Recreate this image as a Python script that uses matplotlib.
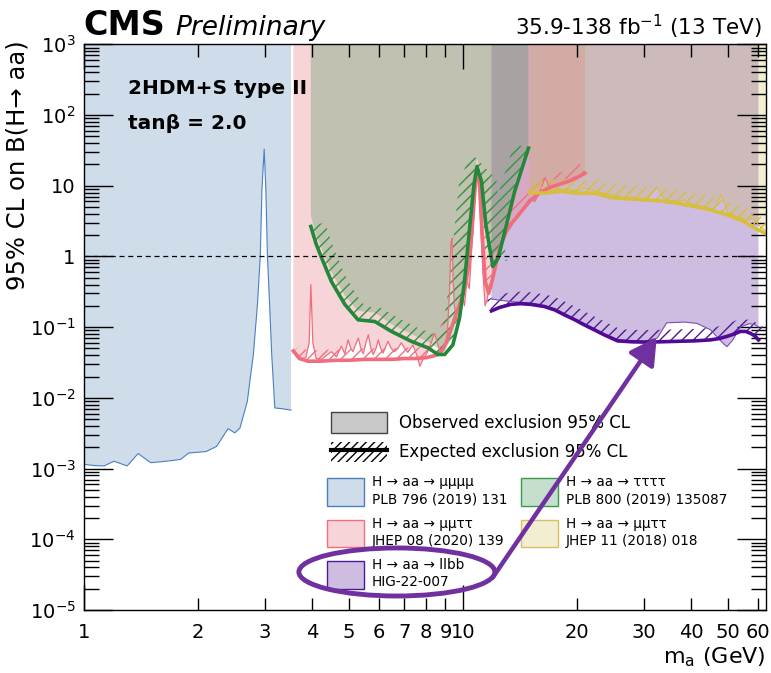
import numpy as np
import matplotlib
matplotlib.use("Agg")
import matplotlib.pyplot as plt
from matplotlib.patches import Polygon, Patch, Ellipse
from matplotlib.lines import Line2D
from matplotlib.ticker import FixedLocator, FuncFormatter

plt.rcParams['font.family'] = ['DejaVu Sans']
plt.rcParams['mathtext.default'] = 'regular'
plt.rcParams['hatch.linewidth'] = 1.0

# H -> aa -> mumumumu, PLB 796 (2019) 131 (observed)
mu4_m = [1.0, 1.07, 1.13, 1.2, 1.3, 1.39, 1.5, 1.6, 1.71, 1.8, 1.89, 2.0, 2.1, 2.24, 2.4, 2.5,
         2.58, 2.64, 2.70, 2.74, 2.80, 2.87, 2.92, 2.95, 2.99, 3.02, 3.05, 3.09, 3.13, 3.16,
         3.19, 3.35, 3.52]
mu4_obs = [1.15e-3, 1.1e-3, 1.09e-3, 1.27e-3, 1.09e-3, 1.63e-3, 1.21e-3, 1.25e-3, 1.3e-3,
           1.35e-3, 1.66e-3, 1.7e-3, 1.74e-3, 2.06e-3, 3.67e-3, 3.2e-3, 3.73e-3, 5.8e-3, 9e-3,
           0.017, 0.041, 0.21, 1.0, 9.0, 33, 9.0, 1.0, 0.21, 0.041, 0.017, 7.2e-3, 7.0e-3, 6.7e-3]

# H -> aa -> mumutautau, JHEP 08 (2020) 139
mmtt20_m = [3.57, 3.65, 3.75, 3.85, 3.93, 3.97, 4.02, 4.1, 4.24, 4.37, 4.5, 4.64, 4.78, 4.88,
            4.98, 5.06, 5.13, 5.22, 5.30, 5.38, 5.46, 5.55, 5.63, 5.72, 5.80, 5.9, 5.98, 6.07,
            6.16, 6.25, 6.34, 6.47, 6.6, 6.74, 6.88, 7.02, 7.16, 7.27, 7.38, 7.5, 7.6, 7.7,
            7.85, 8.08, 8.25, 8.42, 8.6, 8.77, 8.95, 9.1, 9.22, 9.3, 9.36, 9.42, 9.5, 9.65,
            9.8, 9.95, 10.1, 10.25, 10.4, 10.55, 10.7, 10.85, 10.95, 11.05, 11.15, 11.3, 11.45,
            11.6, 11.75, 11.9, 12.1, 12.4, 12.8, 13.2, 13.6, 14.0, 14.5, 15.0, 15.5, 16.0,
            16.5, 17.0, 17.5, 18.0, 18.5, 19.0, 19.5, 20.0, 20.5, 21.0]
mmtt20_obs = [0.048, 0.042, 0.036, 0.037, 0.06, 0.40, 0.06, 0.036, 0.035, 0.04, 0.045, 0.038,
              0.054, 0.042, 0.066, 0.05, 0.045, 0.058, 0.07, 0.05, 0.042, 0.06, 0.078, 0.05,
              0.041, 0.05, 0.066, 0.05, 0.043, 0.052, 0.063, 0.05, 0.045, 0.05, 0.06, 0.05,
              0.044, 0.05, 0.056, 0.045, 0.037, 0.028, 0.035, 0.045, 0.06, 0.082, 0.055, 0.044,
              0.05, 0.08, 0.3, 1.5, 1.8, 0.5, 0.2, 0.12, 0.16, 0.3, 0.2, 0.45, 0.35, 1.2, 4.0,
              15, 20, 10, 2.5, 0.6, 0.2, 0.25, 0.4, 0.35, 0.6, 1.0, 1.8, 2.6, 3.2, 4.0, 5.0,
              6.5, 6.0, 8.5, 13, 9.0, 10, 10.5, 11, 11.5, 13, 13.5, 14, 15]
mmtt20_exp_m = [3.57, 3.7, 3.9, 4.2, 4.6, 5.0, 5.5, 6.0, 6.5, 7.0, 7.5, 8.0, 8.5, 8.8, 9.1,
                9.4, 9.7, 10.0, 10.3, 10.55, 10.75, 10.9, 11.05, 11.25, 11.45, 11.7, 12.0,
                12.5, 13.0, 13.5, 14.0, 14.5, 15.0, 16.0, 17.0, 18.0, 19.0, 20.0, 21.0]
mmtt20_exp = [0.046, 0.036, 0.033, 0.033, 0.034, 0.034, 0.035, 0.035, 0.035, 0.036, 0.036,
              0.037, 0.040, 0.046, 0.065, 0.11, 0.18, 0.28, 0.6, 2.0, 8.0, 18, 12, 2.0, 0.45,
              0.3, 0.5, 1.3, 2.2, 3.0, 3.8, 4.8, 6.0, 8.0, 9.5, 10.5, 11.5, 13, 15]

# H -> aa -> tautautautau, PLB 800 (2019) 135087
tau4_m = [3.97, 4.1, 4.24, 4.5, 4.88, 5.29, 5.86, 6.48, 7.31, 8.09, 8.6, 8.95, 9.41, 9.8,
          10.1, 10.4, 10.7, 10.9, 11.2, 11.5, 12.0, 12.4, 12.9, 13.7, 14.9]
tau4_exp = [2.65, 1.5, 0.95, 0.44, 0.21, 0.127, 0.12, 0.087, 0.063, 0.051, 0.041, 0.041,
            0.056, 0.134, 0.44, 2.25, 10.3, 18.7, 11.5, 2.8, 0.72, 0.95, 2.25, 8.3, 34]
tau4_obs = [3.8, 2.0, 1.3, 0.6, 0.28, 0.17, 0.16, 0.11, 0.08, 0.062, 0.05, 0.045, 0.075, 0.2,
            0.7, 3.5, 14, 24, 15, 3.8, 1.0, 1.3, 3.0, 11, 40]

# H -> aa -> llbb, HIG-22-007
llbb_m = [11.9, 12.5, 13.4, 14.2, 15.1, 16.4, 17.5, 18.5, 19.7, 20.9, 22.2, 23.6, 25.6, 28.0,
          30.1, 33.0, 36.8, 41.0, 45.0, 47.5, 49.8, 52.0, 54.0, 55.8, 57.4, 59.0, 60.3]
llbb_exp = [0.17, 0.19, 0.21, 0.215, 0.21, 0.196, 0.175, 0.15, 0.128, 0.108, 0.092, 0.078,
            0.064, 0.062, 0.0615, 0.062, 0.063, 0.064, 0.066, 0.069, 0.074, 0.08, 0.087, 0.087,
            0.082, 0.075, 0.066]
llbb_obs_m = [11.9, 12.5, 13.4, 14.2, 15.1, 16.4, 17.5, 18.5, 19.7, 20.9, 22.2, 23.6, 25.6,
              28.0, 30.1, 32.6, 34.5, 38.4, 41.5, 45.0, 48.8, 49.8, 51.5, 54.0, 57.0, 59.0, 60.3]
llbb_obs = [0.25, 0.24, 0.23, 0.225, 0.22, 0.2, 0.18, 0.155, 0.13, 0.112, 0.095, 0.08, 0.067,
            0.064, 0.063, 0.07, 0.115, 0.118, 0.113, 0.092, 0.058, 0.053, 0.065, 0.1, 0.112,
            0.108, 0.1]

# H -> aa -> mumutautau, JHEP 11 (2018) 018
mmtt18_m = [15.0, 16.4, 18.2, 20.0, 22.2, 24.6, 27.1, 30.1, 33.2, 36.8, 40.7, 45.0, 49.8,
            55.1, 59.0, 63.0]
mmtt18_exp = [8.0, 7.85, 8.3, 7.85, 7.85, 6.8, 6.55, 6.3, 6.1, 5.66, 5.1, 4.56, 3.88, 3.12,
              2.5, 2.1]
mmtt18_obs_m = [15.0, 16.0, 17.0, 18.0, 19.0, 20.0, 21.0, 22.0, 23.5, 25.0, 26.5, 28.0, 29.5,
                31.0, 32.5, 34.0, 35.5, 37.0, 38.5, 40.0, 42.0, 44.0, 46.0, 48.0, 50.0, 52.0,
                54.0, 56.0, 58.0, 60.0, 61.5, 63.0]
mmtt18_obs = [8.5, 9.5, 8.6, 9.0, 8.8, 8.5, 9.2, 8.7, 7.8, 7.4, 6.8, 6.9, 6.4, 6.9, 9.5, 6.5,
              6.2, 5.9, 6.3, 5.5, 5.2, 5.0, 4.6, 7.5, 4.2, 3.8, 3.6, 3.2, 3.5, 2.9, 2.5, 2.3]

x_major = [1, 10]
x_minor = [2, 3, 4, 5, 6, 7, 8, 9, 20, 30, 40, 50, 60]

purple = '#7030a0'

fig = plt.figure(figsize=(7.71, 6.73), dpi=100)
ax = fig.add_axes([0.1089, 0.0936, 0.8842, 0.8406])
ax.set_xscale('log')
ax.set_yscale('log')
ax.set_xlim(1, 63)
ax.set_ylim(1e-5, 1e3)


def excl(m, obs, color, alpha, z):
    ax.fill_between(m, obs, 1e3, facecolor=color, alpha=alpha, lw=0, zorder=z)


def hatch_band(m, y, color, width=12):
    # hatched band on the excluded side of the expected curve, offset in pixels
    pts = ax.transData.transform(np.column_stack([m, y]))
    d = np.gradient(pts, axis=0)
    n = np.column_stack([-d[:, 1], d[:, 0]])
    n /= np.hypot(n[:, 0], n[:, 1])[:, None]
    poly = np.vstack([pts, (pts + width * n)[::-1]])
    poly = ax.transData.inverted().transform(poly)
    ax.add_patch(Polygon(poly, closed=True, facecolor='none', edgecolor=color,
                         hatch='///', lw=0, zorder=2.2))


# observed exclusions
excl(mu4_m, mu4_obs, '#cfdce9', 1.0, 1.0)
excl(llbb_obs_m, llbb_obs, '#895cb6', 0.40, 1.1)
excl(mmtt20_m, mmtt20_obs, '#e67f88', 0.33, 1.2)
excl(tau4_m, tau4_obs, '#439656', 0.30, 1.3)
excl(mmtt18_obs_m, mmtt18_obs, '#c8b740', 0.235, 1.4)

# expected hatch bands
hatch_band(mmtt20_exp_m, mmtt20_exp, '#f07080', 11)
hatch_band(tau4_m, tau4_exp, '#2f9a3c', 15)
hatch_band(llbb_m, llbb_exp, '#4b1a96', 12)
hatch_band(mmtt18_m, mmtt18_exp, '#d7be3c', 13)

# observed lines
ax.plot(mu4_m, mu4_obs, color='#4a7fc0', lw=0.8, zorder=2.5)
ax.plot(mmtt20_m, mmtt20_obs, color='#f06d7d', lw=0.9, zorder=2.5)
ax.plot(llbb_obs_m, llbb_obs, color='#7a4ab8', lw=0.8, zorder=2.5)
ax.plot(mmtt18_obs_m, mmtt18_obs, color='#d7be3c', lw=0.8, zorder=2.5)

# expected lines
ax.plot(mmtt20_exp_m, mmtt20_exp, color='#f06d7d', lw=2.6, zorder=3)
ax.plot(tau4_m, tau4_exp, color='#23883a', lw=2.6, zorder=3.1)
ax.plot(llbb_m, llbb_exp, color='#500a96', lw=2.6, zorder=3)
ax.plot(mmtt18_m, mmtt18_exp, color='#d7be3c', lw=2.6, zorder=3)

ax.axhline(1, color='black', lw=0.9, ls=(0, (4, 3)), zorder=4)

# axes styling (ROOT-like)
for s in ax.spines.values():
    s.set_linewidth(1.0)
    s.set_zorder(6)
ax.xaxis.set_major_locator(FixedLocator(x_major))
ax.xaxis.set_minor_locator(FixedLocator(x_minor))
ax.xaxis.set_major_formatter(FuncFormatter(lambda v, p: f'{v:g}'))
ax.xaxis.set_minor_formatter(FuncFormatter(lambda v, p: f'{v:g}'))
y_major = [10.0 ** e for e in range(-5, 4)]
y_minor = [k * 10.0 ** e for e in range(-5, 3) for k in range(2, 10)]
ax.yaxis.set_major_locator(FixedLocator(y_major))
ax.yaxis.set_minor_locator(FixedLocator(y_minor))


def yfmt(v, p):
    e = int(round(np.log10(v)))
    if e == 0:
        return '1'
    if e == 1:
        return '10'
    return f'$10^{{{e}}}$'


ax.yaxis.set_major_formatter(FuncFormatter(yfmt))
ax.tick_params(which='both', direction='in', top=True, right=True, width=1.0, labelsize=14)
ax.tick_params(axis='x', which='major', length=18, pad=9)
ax.tick_params(axis='x', which='minor', length=9, pad=9)
ax.tick_params(axis='y', which='major', length=21, pad=6)
ax.tick_params(axis='y', which='minor', length=11)

ax.set_xlabel('$m_a$ (GeV)', fontsize=16, loc='right')
ax.xaxis.set_label_coords(1.0, -0.062)
ax.set_ylabel('95% CL on B(H→ aa)', fontsize=17.5, loc='top')
ax.yaxis.set_label_coords(-0.08, 1.007)

fig.text(0.1077, 0.948, 'CMS', fontsize=24, fontweight='bold', va='baseline')
fig.text(0.227, 0.948, 'Preliminary', fontsize=19, style='italic', va='baseline')
fig.text(0.988, 0.948, '35.9-138 fb$^{-1}$ (13 TeV)', fontsize=15.5, ha='right', va='baseline')

ax.text(0.0645, 0.912, '2HDM+S type II', transform=ax.transAxes, fontsize=14.5,
        fontweight='bold', va='baseline', zorder=7)
ax.text(0.0645, 0.850, 'tanβ = 2.0', transform=ax.transAxes, fontsize=14.5,
        fontweight='bold', va='baseline', zorder=7)

# legends
h_obs = Patch(facecolor='#c8c8c8', edgecolor='#444444', lw=1)
h_exp = (Patch(facecolor='none', edgecolor='black', hatch='////', lw=0),
         Line2D([], [], color='black', lw=3))
leg1 = ax.legend([h_obs, h_exp], ['Observed exclusion 95% CL', 'Expected exclusion 95% CL'],
                 loc='upper left', bbox_to_anchor=(331 / 771, 1 - 412 / 673),
                 bbox_transform=fig.transFigure, frameon=False, fontsize=12,
                 handlelength=3.35, handleheight=1.52, handletextpad=0.72,
                 labelspacing=0.55, borderpad=0, borderaxespad=0)
leg1.set_zorder(8)
ax.add_artist(leg1)

leg_handles = [
    Patch(facecolor='#cfdce9', edgecolor='#4a7fc0', lw=1),
    Patch(facecolor=(0.902, 0.498, 0.533, 0.33), edgecolor='#f07080', lw=1),
    Patch(facecolor=(0.537, 0.361, 0.714, 0.40), edgecolor='#4b1a96', lw=1),
    Patch(facecolor=(0.263, 0.588, 0.337, 0.30), edgecolor='#3a9a4a', lw=1),
    Patch(facecolor=(0.784, 0.718, 0.251, 0.235), edgecolor='#d8c060', lw=1),
]
leg_labels = [
    'H → aa → μμμμ\nPLB 796 (2019) 131',
    'H → aa → μμττ\nJHEP 08 (2020) 139',
    'H → aa → llbb\nHIG-22-007',
    'H → aa → ττττ\nPLB 800 (2019) 135087',
    'H → aa → μμττ\nJHEP 11 (2018) 018',
]
leg2 = ax.legend(leg_handles, leg_labels, ncol=2, loc='upper left',
                 bbox_to_anchor=(327 / 771, 1 - 475 / 673), bbox_transform=fig.transFigure,
                 frameon=False, fontsize=9.8, handlelength=2.7, handleheight=2.75,
                 handletextpad=0.6, labelspacing=0.75, columnspacing=1.0,
                 borderpad=0, borderaxespad=0)
for t in leg2.get_texts():
    t.set_linespacing(1.3)
leg2.set_zorder(8)

# highlight of the new result
ax.add_patch(Ellipse((0.459, 0.0672), 0.2875, 0.0849, transform=ax.transAxes, fill=False,
                     edgecolor=purple, lw=3.5, zorder=10, clip_on=False))
ax.annotate('', xy=(32.5, 0.072), xytext=(12.0, 2.9e-5),
            arrowprops=dict(arrowstyle='-|>,head_length=0.9,head_width=0.5', color=purple,
                            lw=3.2, shrinkA=0, shrinkB=0, mutation_scale=18),
            zorder=10)

fig.savefig('out.png', dpi=100)
